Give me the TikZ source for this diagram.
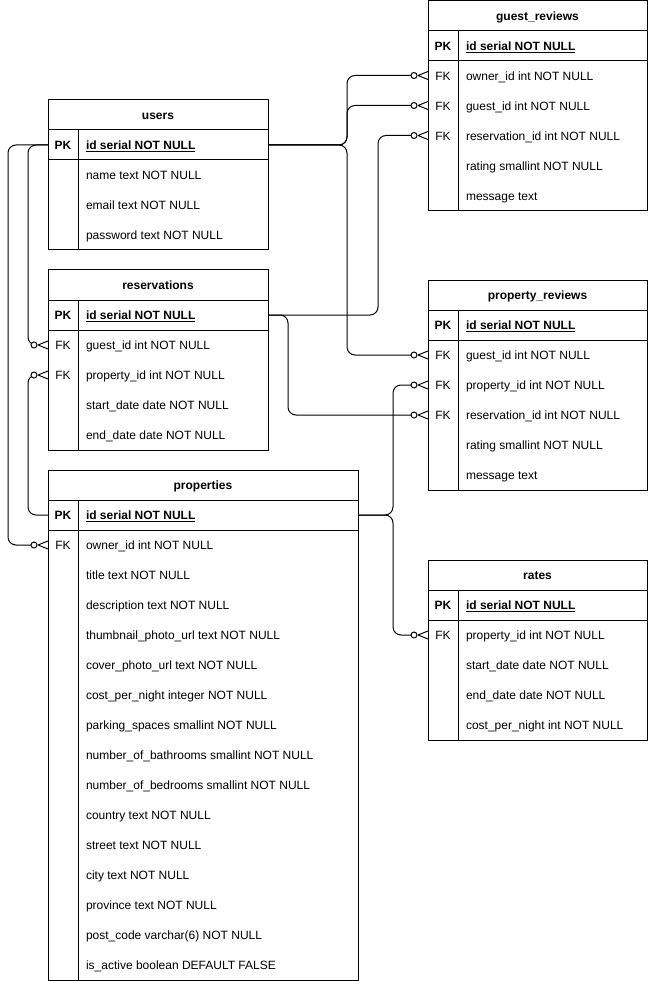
\documentclass[tikz,border=0pt]{standalone}
\usepackage{fontspec}
\setmainfont{Liberation Sans}

% One database table: header, primary key row, then the remaining rows.
% #1 id, #2 left x, #3 top y, #4 width, #5 title, #6 primary key field,
% #7 number of rows after the key row, #8 rows as {key/field,...}
\newcommand\erdtable[8]{%
  \draw[frame, fill=white] (#2,#3) rectangle (#2+#4,#3+60+30*#7);
  \draw[frame] (#2,#3+30) -- ++(#4,0);
  \draw[frame] (#2,#3+60) -- ++(#4,0);
  \draw[frame] (#2+30,#3+30) -- (#2+30,#3+60+30*#7);
  \node[cell, minimum width=#4pt, anchor=north west] (#1-head) at (#2,#3) {};
  \node[txt, bold, anchor=base] at ([yshift=-4.9pt]#1-head.center) {#5};
  \node[cell, minimum width=#4pt, anchor=north west] (#1-pk) at (#2,#3+30) {};
  \node[txt, bold, anchor=base] at ([xshift=15pt,yshift=-4.9pt]#1-pk.west) {PK};
  \node[txt, bold, anchor=base west] at ([xshift=38pt,yshift=-4.9pt]#1-pk.west) {\underline{#6}};
  \foreach \k/\f [count=\i] in {#8} {
    \node[cell, minimum width=#4pt, anchor=north west] (#1-\i) at (#2,#3+30+30*\i) {};
    \node[txt, anchor=base] at ([xshift=15pt,yshift=-4.9pt]#1-\i.west) {\k};
    \node[txt, anchor=base west] at ([xshift=38pt,yshift=-4.9pt]#1-\i.west) {\f};
  }%
}

\begin{document}
\begin{tikzpicture}[x=1pt, y=-1pt,
  frame/.style={line width=1pt, draw=black},
  cell/.style={rectangle, draw=none, minimum height=30pt, inner sep=0pt, outer sep=0pt},
  txt/.style={inner sep=0pt, outer sep=0pt, font=\fontsize{12}{14}\selectfont},
  bold/.style={font=\bfseries\fontsize{12}{14}\selectfont},
  rel/.style={line width=1pt, draw=black, rounded corners=8pt},
  zeromany/.pic={
    \draw[line width=1pt] (-10,0) -- (0,-4) (-10,0) -- (0,4);
    \draw[line width=1pt, fill=white] (-14,0) circle[radius=3];
  }
]
\useasboundingbox (0,0) rectangle (648,981);

\erdtable{users}{48}{100}{220}{users}{id serial NOT NULL}{3}{%
  /name text NOT NULL,
  /email text NOT NULL,
  /password text NOT NULL}

\erdtable{res}{48}{270}{220}{reservations}{id serial NOT NULL}{4}{%
  FK/guest\_id int NOT NULL,
  FK/property\_id int NOT NULL,
  /start\_date date NOT NULL,
  /end\_date date NOT NULL}

\erdtable{prop}{48}{470}{310}{properties}{id serial NOT NULL}{15}{%
  FK/owner\_id int NOT NULL,
  /title text NOT NULL,
  /description text NOT NULL,
  /thumbnail\_photo\_url text NOT NULL,
  /cover\_photo\_url text NOT NULL,
  /cost\_per\_night integer NOT NULL,
  /parking\_spaces smallint NOT NULL,
  /number\_of\_bathrooms smallint NOT NULL,
  /number\_of\_bedrooms smallint NOT NULL,
  /country text NOT NULL,
  /street text NOT NULL,
  /city text NOT NULL,
  /province text NOT NULL,
  /post\_code varchar(6) NOT NULL,
  /is\_active boolean DEFAULT FALSE}

\erdtable{gr}{428}{0.5}{219}{guest\_reviews}{id serial NOT NULL}{5}{%
  FK/owner\_id int NOT NULL,
  FK/guest\_id int NOT NULL,
  FK/reservation\_id int NOT NULL,
  /rating smallint NOT NULL,
  /message text}

\erdtable{pr}{428}{280}{219}{property\_reviews}{id serial NOT NULL}{5}{%
  FK/guest\_id int NOT NULL,
  FK/property\_id int NOT NULL,
  FK/reservation\_id int NOT NULL,
  /rating smallint NOT NULL,
  /message text}

\erdtable{rates}{428}{560}{219}{rates}{id serial NOT NULL}{4}{%
  FK/property\_id int NOT NULL,
  /start\_date date NOT NULL,
  /end\_date date NOT NULL,
  /cost\_per\_night int NOT NULL}

% users.id references
\draw[rel] (users-pk.east) -- ++(79,0) |- ([xshift=-17pt]gr-1.west);
\draw[rel] (users-pk.east) -- ++(79,0) |- ([xshift=-17pt]gr-2.west);
\draw[rel] (users-pk.east) -- ++(79,0) |- ([xshift=-17pt]pr-1.west);
\draw[rel] (users-pk.west) -- ++(-20,0) |- ([xshift=-17pt]res-1.west);
\draw[rel] (users-pk.west) -- ++(-40,0) |- ([xshift=-17pt]prop-1.west);

% reservations.id references
\draw[rel] (res-pk.east) -- ++(110,0) |- ([xshift=-17pt]gr-3.west);
\draw[rel] (res-pk.east) -- ++(20,0) |- ([xshift=-17pt]pr-3.west);

% properties.id references
\draw[rel] (prop-pk.east) -- ++(35,0) |- ([xshift=-17pt]pr-2.west);
\draw[rel] (prop-pk.east) -- ++(35,0) |- ([xshift=-17pt]rates-1.west);
\draw[rel] (prop-pk.west) -- ++(-20,0) |- ([xshift=-17pt]res-2.west);

% zero-or-many ends
\pic at (gr-1.west) {zeromany};
\pic at (gr-2.west) {zeromany};
\pic at (gr-3.west) {zeromany};
\pic at (pr-1.west) {zeromany};
\pic at (pr-2.west) {zeromany};
\pic at (pr-3.west) {zeromany};
\pic at (res-1.west) {zeromany};
\pic at (res-2.west) {zeromany};
\pic at (prop-1.west) {zeromany};
\pic at (rates-1.west) {zeromany};
\end{tikzpicture}
\end{document}
